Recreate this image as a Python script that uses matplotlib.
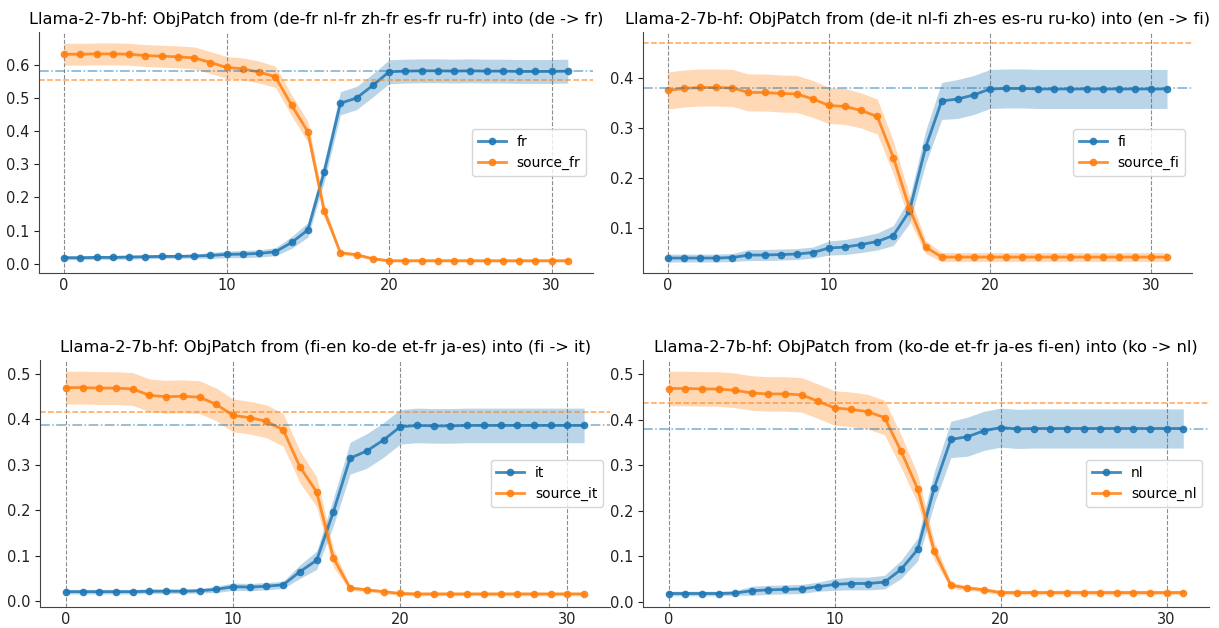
import matplotlib
matplotlib.use("Agg")
import matplotlib.pyplot as plt
import numpy as np

layers = list(range(32))

titles = [
    "Llama-2-7b-hf: ObjPatch from (de-fr nl-fr zh-fr es-fr ru-fr) into (de -> fr)",
    "Llama-2-7b-hf: ObjPatch from (de-it nl-fi zh-es es-ru ru-ko) into (en -> fi)",
    "Llama-2-7b-hf: ObjPatch from (fi-en ko-de et-fr ja-es) into (fi -> it)",
    "Llama-2-7b-hf: ObjPatch from (ko-de et-fr ja-es fi-en) into (ko -> nl)",
]
target_names = ["fr", "fi", "it", "nl"]

# Panel 1 (de -> fr)
fr = [0.018, 0.018, 0.019, 0.019, 0.020, 0.021, 0.022, 0.022, 0.023, 0.025, 0.028, 0.029,
      0.031, 0.036, 0.064, 0.102, 0.276, 0.484, 0.500, 0.538, 0.579, 0.581, 0.582, 0.582,
      0.581, 0.582, 0.581, 0.581, 0.580, 0.580, 0.580, 0.581]
fr_err = [0.006] * 9 + [0.009, 0.010, 0.011, 0.011, 0.012, 0.018, 0.022, 0.030, 0.035,
                        0.035, 0.035] + [0.036] * 12
source_fr = [0.632, 0.632, 0.633, 0.633, 0.632, 0.628, 0.626, 0.624, 0.621, 0.607, 0.592, 0.588,
             0.578, 0.564, 0.478, 0.398, 0.160, 0.033, 0.027, 0.015, 0.009, 0.009, 0.009, 0.009,
             0.009, 0.009, 0.009, 0.009, 0.009, 0.009, 0.009, 0.009]
source_fr_err = [0.033] * 13 + [0.032, 0.032, 0.031, 0.020, 0.006, 0.005] + [0.004] * 13
base_fr = 0.580
base_source_fr = 0.555

# Panel 2 (en -> fi)
fi = [0.040, 0.040, 0.040, 0.040, 0.041, 0.046, 0.046, 0.047, 0.048, 0.051, 0.060, 0.062,
      0.067, 0.073, 0.085, 0.134, 0.261, 0.354, 0.358, 0.366, 0.378, 0.379, 0.379, 0.378,
      0.378, 0.378, 0.378, 0.378, 0.378, 0.378, 0.378, 0.378]
fi_err = [0.008] * 5 + [0.011] * 5 + [0.014, 0.015, 0.016, 0.017, 0.020, 0.025, 0.033, 0.037] + [0.039] * 14
source_fi = [0.375, 0.379, 0.381, 0.381, 0.380, 0.371, 0.371, 0.369, 0.368, 0.358, 0.345, 0.343,
             0.335, 0.323, 0.241, 0.140, 0.062, 0.042, 0.042, 0.042, 0.042, 0.042, 0.042, 0.042,
             0.042, 0.042, 0.042, 0.042, 0.042, 0.042, 0.042, 0.042]
source_fi_err = [0.037] * 10 + [0.036, 0.036, 0.035, 0.035, 0.033, 0.025, 0.013] + [0.009] * 15
base_fi = 0.379
base_source_fi = 0.470

# Panel 3 (fi -> it)
it = [0.021, 0.021, 0.021, 0.021, 0.021, 0.022, 0.022, 0.022, 0.023, 0.026, 0.032, 0.031,
      0.033, 0.036, 0.065, 0.090, 0.196, 0.314, 0.330, 0.354, 0.383, 0.386, 0.385, 0.385,
      0.386, 0.386, 0.386, 0.386, 0.386, 0.386, 0.386, 0.386]
it_err = [0.005] * 9 + [0.007, 0.008, 0.008, 0.008, 0.008, 0.015, 0.020, 0.030, 0.035] + [0.038] * 14
source_it = [0.469, 0.469, 0.468, 0.468, 0.466, 0.452, 0.449, 0.450, 0.448, 0.432, 0.408, 0.403,
             0.395, 0.376, 0.295, 0.240, 0.095, 0.029, 0.025, 0.021, 0.017, 0.016, 0.016, 0.016,
             0.016, 0.016, 0.016, 0.016, 0.016, 0.016, 0.016, 0.016]
source_it_err = [0.036] * 14 + [0.035, 0.033, 0.020, 0.005] + [0.004] * 14
base_it = 0.386
base_source_it = 0.416

# Panel 4 (ko -> nl)
nl = [0.018, 0.018, 0.018, 0.018, 0.019, 0.024, 0.026, 0.027, 0.028, 0.033, 0.038, 0.040,
      0.040, 0.043, 0.071, 0.115, 0.251, 0.357, 0.363, 0.376, 0.383, 0.380, 0.381, 0.381,
      0.381, 0.381, 0.381, 0.381, 0.381, 0.381, 0.381, 0.381]
nl_err = [0.005] * 5 + [0.010] * 5 + [0.013, 0.014, 0.014, 0.015, 0.020, 0.025, 0.035, 0.040] + [0.043] * 14
source_nl = [0.469, 0.469, 0.468, 0.468, 0.465, 0.459, 0.457, 0.457, 0.455, 0.441, 0.426, 0.423,
             0.418, 0.405, 0.331, 0.248, 0.111, 0.036, 0.030, 0.026, 0.020, 0.020, 0.020, 0.020,
             0.020, 0.020, 0.020, 0.020, 0.020, 0.020, 0.020, 0.020]
source_nl_err = [0.038] * 14 + [0.036, 0.032, 0.020, 0.007] + [0.005] * 14
base_nl = 0.381
base_source_nl = 0.438

panels = [
    (fr, fr_err, source_fr, source_fr_err, base_fr, base_source_fr),
    (fi, fi_err, source_fi, source_fi_err, base_fi, base_source_fi),
    (it, it_err, source_it, source_it_err, base_it, base_source_it),
    (nl, nl_err, source_nl, source_nl_err, base_nl, base_source_nl),
]

W, H = 1219, 628
fig = plt.figure(figsize=(W / 100, H / 100), dpi=100)

# pixel boxes: left, right, top, bottom
boxes = [(39, 593, 32, 273), (643, 1192, 32, 273), (40, 610, 360, 607), (643, 1209, 360, 607)]

blue = "#1f77b4"
orange = "#ff7f0e"

for i, (box, data) in enumerate(zip(boxes, panels)):
    l, r, t, b = box
    ax = fig.add_axes([l / W, 1 - b / H, (r - l) / W, (b - t) / H])
    tgt, tgt_err, src, src_err, base_t, base_s = data
    tgt = np.array(tgt); tgt_err = np.array(tgt_err)
    src = np.array(src); src_err = np.array(src_err)
    name = target_names[i]
    ax.plot(layers, tgt, marker="o", markersize=4.5, linewidth=2, color=blue, alpha=0.85, label=name)
    ax.fill_between(layers, tgt - tgt_err, tgt + tgt_err, color=blue, alpha=0.3, linewidth=0)
    ax.plot(layers, src, marker="o", markersize=4.5, linewidth=2, color=orange, alpha=0.85,
            label="source_" + name)
    ax.fill_between(layers, src - src_err, src + src_err, color=orange, alpha=0.3, linewidth=0)
    ax.axhline(base_t, color=blue, linestyle="-.", linewidth=1.1, alpha=0.6)
    ax.axhline(base_s, color=orange, linestyle="--", linewidth=1.1, alpha=0.7)
    ax.set_xticks([0, 10, 20, 30])
    ax.xaxis.grid(True, linestyle="--", color="gray", linewidth=0.8, alpha=0.9)
    ax.set_axisbelow(True)
    ax.spines["top"].set_visible(False)
    ax.spines["right"].set_visible(False)
    for s in ("left", "bottom"):
        ax.spines[s].set_color("#444444")
    ax.tick_params(labelsize=10.5, colors="#222222")
    ax.tick_params(axis="x", length=0)
    ax.set_title(titles[i], fontsize=11.7)
    ax.legend(loc="center right", fontsize=10)

fig.savefig("out.png", dpi=100)
